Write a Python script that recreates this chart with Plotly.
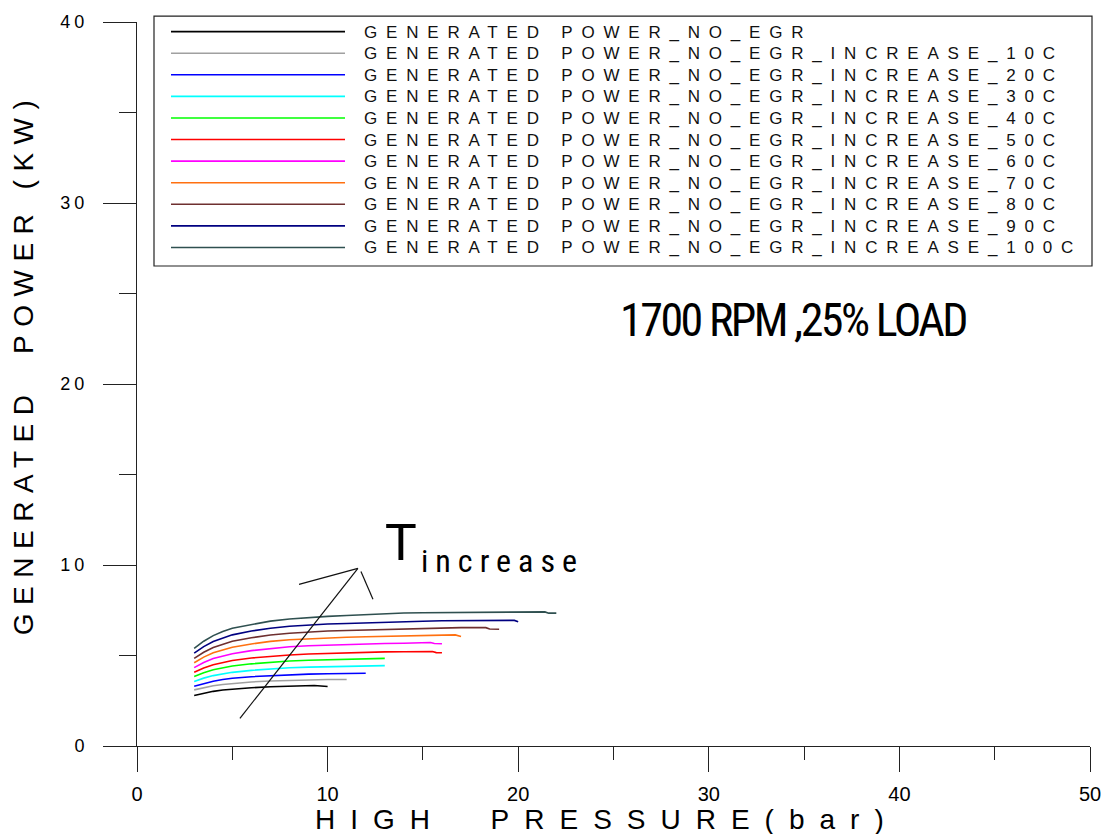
import plotly.graph_objects as go

# ---- data -------------------------------------------------------------
series_names = [
    "GENERATED POWER_NO_EGR",
    "GENERATED POWER_NO_EGR_INCREASE_10C",
    "GENERATED POWER_NO_EGR_INCREASE_20C",
    "GENERATED POWER_NO_EGR_INCREASE_30C",
    "GENERATED POWER_NO_EGR_INCREASE_40C",
    "GENERATED POWER_NO_EGR_INCREASE_50C",
    "GENERATED POWER_NO_EGR_INCREASE_60C",
    "GENERATED POWER_NO_EGR_INCREASE_70C",
    "GENERATED POWER_NO_EGR_INCREASE_80C",
    "GENERATED POWER_NO_EGR_INCREASE_90C",
    "GENERATED POWER_NO_EGR_INCREASE_100C",
]

series_colors = [
    "#000000", "#a0a0a0", "#0000ff", "#00ffff", "#00ff00", "#ff0000",
    "#ff00ff", "#ff7010", "#6e2f2f", "#000080", "#2f5050",
]

p_base = [3, 3.5, 4, 4.5, 5, 6, 7, 8, 9, 9.3, 10]
w_base = [2.79, 2.92, 3.02, 3.09, 3.14, 3.22, 3.27, 3.31, 3.33, 3.34, 3.29]

p_10c = [3, 3.5, 4, 4.5, 5, 6, 7, 8, 9, 10, 11]
w_10c = [3.10, 3.23, 3.33, 3.40, 3.46, 3.54, 3.59, 3.63, 3.65, 3.67, 3.67]

p_20c = [3, 3.5, 4, 4.5, 5, 6, 7, 8, 9, 10, 11, 12]
w_20c = [3.30, 3.46, 3.58, 3.67, 3.74, 3.83, 3.89, 3.94, 3.97, 3.99, 4.01, 4.02]

p_30c = [3, 3.5, 4, 4.5, 5, 6, 7, 8, 9, 10, 11, 12, 13]
w_30c = [3.56, 3.75, 3.89, 3.99, 4.07, 4.18, 4.26, 4.32, 4.36, 4.39, 4.41, 4.43, 4.44]

p_40c = [3, 3.5, 4, 4.5, 5, 6, 7, 8, 9, 10, 11, 12, 13]
w_40c = [3.84, 4.05, 4.21, 4.33, 4.42, 4.54, 4.63, 4.70, 4.74, 4.77, 4.80, 4.82, 4.84]

p_50c = [3, 3.5, 4, 4.5, 5, 6, 7, 8, 9, 10, 11, 12, 13, 14, 15, 15.5, 15.7, 16]
w_50c = [4.07, 4.31, 4.49, 4.62, 4.72, 4.86, 4.96, 5.03, 5.08, 5.12, 5.15, 5.18, 5.20,
         5.21, 5.22, 5.22, 5.16, 5.15]

p_60c = [3, 3.5, 4, 4.5, 5, 6, 7, 8, 9, 10, 11, 12, 13, 14, 15, 15.4, 15.6, 16]
w_60c = [4.33, 4.61, 4.83, 4.98, 5.10, 5.27, 5.39, 5.48, 5.54, 5.58, 5.61, 5.64, 5.66,
         5.68, 5.71, 5.72, 5.66, 5.65]

p_70c = [3, 3.5, 4, 4.5, 5, 6, 7, 8, 9, 10, 11, 12, 13, 14, 15, 16, 16.7, 17]
w_70c = [4.60, 4.91, 5.15, 5.32, 5.46, 5.64, 5.78, 5.87, 5.93, 5.98, 6.01, 6.04, 6.06,
         6.08, 6.11, 6.13, 6.14, 6.05]

p_80c = [3, 3.5, 4, 4.5, 5, 6, 7, 8, 9, 10, 11, 12, 13, 14, 15, 16, 17, 18, 18.3, 18.5, 19]
w_80c = [4.84, 5.18, 5.44, 5.63, 5.79, 5.98, 6.13, 6.23, 6.30, 6.35, 6.38, 6.41, 6.45,
         6.46, 6.50, 6.53, 6.54, 6.54, 6.54, 6.46, 6.45]

p_90c = [3, 3.5, 4, 4.5, 5, 6, 7, 8, 9, 10, 11, 12, 13, 14, 15, 16, 17, 18, 19, 19.8, 20]
w_90c = [5.13, 5.49, 5.77, 5.97, 6.14, 6.35, 6.51, 6.62, 6.69, 6.74, 6.77, 6.79, 6.84,
         6.87, 6.89, 6.92, 6.93, 6.94, 6.94, 6.94, 6.87]

p_100c = [3, 3.5, 4, 4.5, 5, 6, 7, 8, 9, 10, 11, 12, 13, 14, 15, 16, 17, 18, 19, 20, 21,
          21.4, 21.6, 22]
w_100c = [5.39, 5.79, 6.10, 6.33, 6.51, 6.72, 6.90, 7.02, 7.10, 7.16, 7.21, 7.26, 7.29,
          7.35, 7.36, 7.37, 7.40, 7.41, 7.41, 7.41, 7.41, 7.41, 7.34, 7.34]

pressures = [p_base, p_10c, p_20c, p_30c, p_40c, p_50c, p_60c, p_70c, p_80c, p_90c, p_100c]
powers = [w_base, w_10c, w_20c, w_30c, w_40c, w_50c, w_60c, w_70c, w_80c, w_90c, w_100c]

x_ticks = [0, 10, 20, 30, 40, 50]
y_ticks = [0, 10, 20, 30, 40]

# ---- layout geometry (pixels on a 1113 x 834 page) --------------------
W, H = 1113, 834
L, R, T, B = 137, 23, 16, 88
PW, PH = W - L - R, H - T - B


def fx(px):
    """page pixel x -> paper x"""
    return (px - L) / PW


def fy(py):
    """page pixel y -> paper y"""
    return (H - B - py) / PH


FONT = "Liberation Sans, Arial, sans-serif"
NARROW = "Roboto Condensed, DejaVu Sans Condensed, sans-serif"


def spaced(text, ls, extra=""):
    return f'<span style="letter-spacing:{ls}px;{extra}">{text}</span>'


fig = go.Figure()

for name, color, xs, ys in zip(series_names, series_colors, pressures, powers):
    fig.add_trace(go.Scatter(
        x=xs, y=ys, mode="lines", name=name, showlegend=False,
        line=dict(color=color, width=1.6),
    ))

shapes = []
annotations = []

# legend frame
shapes.append(dict(type="rect", xref="paper", yref="paper",
                   x0=fx(154), x1=fx(1092), y0=fy(262), y1=fy(10),
                   line=dict(color="#222", width=1.2), fillcolor="white", layer="above"))
row0, row_step = 25.7, 21.76
for i, (name, color) in enumerate(zip(series_names, series_colors)):
    yy = row0 + i * row_step
    shapes.append(dict(type="line", xref="paper", yref="paper",
                       x0=fx(171), x1=fx(345), y0=fy(yy), y1=fy(yy),
                       line=dict(color=color, width=1.6), layer="above"))
    annotations.append(dict(
        xref="paper", yref="paper", x=fx(362), y=fy(yy + 0.5),
        xanchor="left", yanchor="middle", showarrow=False,
        text=spaced(name, 8.8), font=dict(family=FONT, size=17, color="#111"),
    ))

# temperature-increase arrow
arrow_color = "#111"
shapes += [
    dict(type="line", xref="x", yref="y", x0=5.40, y0=1.53, x1=11.59, y1=9.81,
         line=dict(color=arrow_color, width=1.2)),
    dict(type="line", xref="x", yref="y", x0=8.50, y0=8.93, x1=11.59, y1=9.81,
         line=dict(color=arrow_color, width=1.2)),
    dict(type="line", xref="x", yref="y", x0=11.75, y0=9.64, x1=12.38, y1=8.11,
         line=dict(color=arrow_color, width=1.2)),
]

annotations += [
    dict(xref="paper", yref="paper", x=fx(383), y=fy(540), xanchor="left", yanchor="middle",
         showarrow=False, text="T", font=dict(family=FONT, size=52, color="#000")),
    dict(xref="paper", yref="paper", x=fx(419), y=fy(559), xanchor="left", yanchor="middle",
         showarrow=False, text=spaced("increase", 7),
         font=dict(family=NARROW, size=32, color="#000")),
    dict(xref="paper", yref="paper", x=fx(793), y=fy(316), xanchor="center", yanchor="middle",
         showarrow=False, text=spaced("1700 RPM ,25% LOAD", -2.5),
         font=dict(family=NARROW, size=46, color="#000")),
    # axis titles
    dict(xref="paper", yref="paper", x=fx(607), y=fy(820), xanchor="center", yanchor="middle",
         showarrow=False, text=spaced("HIGH  PRESSURE(bar)", 15),
         font=dict(family=FONT, size=28, color="#000")),
    dict(xref="paper", yref="paper", x=fx(23), y=fy(360), xanchor="center", yanchor="middle",
         showarrow=False, textangle=-90, text=spaced("GENERATED  POWER (KW)", 8.5),
         font=dict(family=FONT, size=28, color="#000")),
]

axis_common = dict(
    showgrid=False, zeroline=False, showline=True, linecolor="#222", linewidth=1,
    ticks="outside", tickcolor="#222", tickwidth=1,
)

fig.update_layout(
    width=W, height=H,
    margin=dict(l=L, r=R, t=T, b=B, pad=0),
    paper_bgcolor="white", plot_bgcolor="white",
    showlegend=False,
    shapes=shapes, annotations=annotations,
    xaxis=dict(
        range=[0, 50], tickvals=x_ticks, ticktext=[str(v) for v in x_ticks],
        ticklen=25, ticklabelstandoff=5,
        tickfont=dict(family=FONT, size=20, color="#000"),
        minor=dict(ticks="outside", ticklen=13, tickwidth=1, tickcolor="#222", dtick=5,
                   tick0=0, showgrid=False),
        **axis_common,
    ),
    yaxis=dict(
        range=[0, 40], tickvals=y_ticks, ticktext=[spaced(str(v), 4) for v in y_ticks],
        ticklen=33, ticklabelstandoff=11,
        tickfont=dict(family=FONT, size=18, color="#000"),
        minor=dict(ticks="outside", ticklen=17, tickwidth=1, tickcolor="#222", dtick=5,
                   tick0=0, showgrid=False),
        **axis_common,
    ),
)

fig.write_html("out.html")
